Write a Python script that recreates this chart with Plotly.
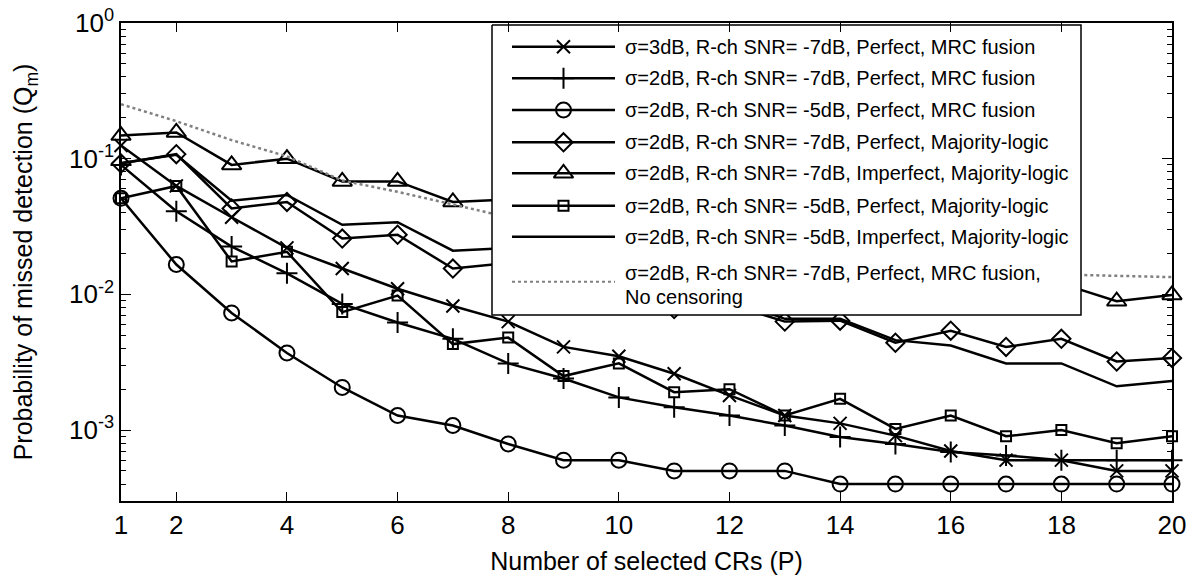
import math

import plotly.graph_objects as go

# Number of selected CRs
P = list(range(1, 21))

# Probability of missed detection (Qm)
q_s3_m7_perf_mrc = [0.125, 0.063, 0.037, 0.022, 0.0155, 0.011, 0.0082, 0.0063, 0.0041, 0.0035,
                    0.0026, 0.0018, 0.00128, 0.00112, 0.00091, 0.0007, 0.0006, 0.0006, 0.0005, 0.0005]
q_s2_m7_perf_mrc = [0.09, 0.041, 0.0225, 0.0143, 0.0085, 0.0062, 0.0047, 0.0031, 0.0024, 0.00174,
                    0.00147, 0.00128, 0.00108, 0.00089, 0.00079, 0.00069, 0.00065, 0.0006, 0.0006, 0.0006]
q_s2_m5_perf_mrc = [0.051, 0.0166, 0.0073, 0.0037, 0.00206, 0.00128, 0.00108, 0.00079, 0.0006, 0.0006,
                    0.0005, 0.0005, 0.0005, 0.0004, 0.0004, 0.0004, 0.0004, 0.0004, 0.0004, 0.0004]
q_s2_m7_perf_maj = [0.092, 0.108, 0.043, 0.048, 0.0258, 0.0275, 0.0155, 0.017, 0.0125, 0.0115,
                    0.0078, 0.0085, 0.0063, 0.0064, 0.0044, 0.0054, 0.0041, 0.0047, 0.0032, 0.0034]
q_s2_m7_imp_maj = [0.148, 0.156, 0.09, 0.1, 0.068, 0.068, 0.048, 0.05, 0.045, 0.04,
                   0.036, 0.031, 0.027, 0.023, 0.02, 0.017, 0.0145, 0.012, 0.0089, 0.0099]
q_s2_m5_perf_maj = [0.051, 0.063, 0.0175, 0.0206, 0.0074, 0.0098, 0.0043, 0.0048, 0.0025, 0.0031,
                    0.0019, 0.002, 0.00128, 0.0017, 0.00102, 0.00128, 0.0009, 0.001, 0.0008, 0.0009]
q_s2_m5_imp_maj = [0.093, 0.107, 0.049, 0.054, 0.0326, 0.034, 0.021, 0.022, 0.016, 0.014,
                   0.0095, 0.0092, 0.0066, 0.0066, 0.0046, 0.0042, 0.0031, 0.0031, 0.0021, 0.0023]
q_s2_m7_perf_mrc_nocens = [0.252, 0.189, 0.137, 0.104, 0.069, 0.057, 0.046, 0.037, 0.031, 0.027,
                           0.024, 0.021, 0.019, 0.017, 0.016, 0.015, 0.0145, 0.014, 0.0137, 0.0134]

labels = [
    "σ=3dB, R-ch SNR= -7dB, Perfect, MRC fusion",
    "σ=2dB, R-ch SNR= -7dB, Perfect, MRC fusion",
    "σ=2dB, R-ch SNR= -5dB, Perfect, MRC fusion",
    "σ=2dB, R-ch SNR= -7dB, Perfect, Majority-logic",
    "σ=2dB, R-ch SNR= -7dB, Imperfect, Majority-logic",
    "σ=2dB, R-ch SNR= -5dB, Perfect, Majority-logic",
    "σ=2dB, R-ch SNR= -5dB, Imperfect, Majority-logic",
    "σ=2dB, R-ch SNR= -7dB, Perfect, MRC fusion,",
]
extra_label = "No censoring"

y_tickvals = [1e-3, 1e-2, 1e-1, 1]
y_ticktext = ["10<sup>-3</sup>", "10<sup>-2</sup>", "10<sup>-1</sup>", "10<sup>0</sup>"]
x_tickvals = [1, 2, 4, 6, 8, 10, 12, 14, 16, 18, 20]

FONT = "Arial, Liberation Sans, sans-serif"

# (data, symbol, size, dash, color)
series = [
    (q_s3_m7_perf_mrc, "x-thin-open", 13, "solid", "black"),
    (q_s2_m7_perf_mrc, "cross-thin-open", 15, "solid", "black"),
    (q_s2_m5_perf_mrc, "circle-open", 15, "solid", "black"),
    (q_s2_m7_perf_maj, "diamond-open", 14, "solid", "black"),
    (q_s2_m7_imp_maj, "triangle-up-open", 17, "solid", "black"),
    (q_s2_m5_perf_maj, "square-open", 10, "solid", "black"),
    (q_s2_m5_imp_maj, None, 0, "solid", "black"),
    (q_s2_m7_perf_mrc_nocens, None, 0, "dot", "#808080"),
]

fig = go.Figure()

for (vals, sym, size, dash, color), name in zip(series, labels):
    fig.add_trace(
        go.Scatter(
            x=P,
            y=vals,
            name=name,
            mode="lines+markers" if sym else "lines",
            line=dict(color=color, width=2.5, dash=dash),
            marker=dict(symbol=sym, size=size, color="black", line=dict(width=2, color="black"))
            if sym else None,
            cliponaxis=False,
            showlegend=False,
        )
    )

# hand-drawn legend box on an overlay axis measured in screen pixels
PLOT_L, PLOT_R, PLOT_T, PLOT_B = 121, 1172, 23, 501
PAGE_PAD = 8  # default body margin of the html page
BOX_X0, BOX_X1, BOX_Y0, BOX_Y1 = 492, 1081, 25, 315
SAMPLE_X0, SAMPLE_X1, TEXT_X = 512, 615, 623
ROW_Y = [46.7, 78.3, 110, 142.3, 173.3, 205.7, 236.7, 281.7]
TEXT_Y = [46.7, 78.3, 110, 142.3, 173.3, 205.7, 236.7, 272.5]
EXTRA_Y = 296.5

fig.add_trace(
    go.Scatter(
        x=[BOX_X0, BOX_X1, BOX_X1, BOX_X0, BOX_X0],
        y=[BOX_Y0, BOX_Y0, BOX_Y1, BOX_Y1, BOX_Y0],
        mode="lines",
        fill="toself",
        fillcolor="white",
        line=dict(color="black", width=1.5),
        xaxis="x2",
        yaxis="y2",
        hoverinfo="skip",
        showlegend=False,
    )
)

xm = (SAMPLE_X0 + SAMPLE_X1) / 2
for (vals, sym, size, dash, color), ry in zip(series, ROW_Y):
    fig.add_trace(
        go.Scatter(
            x=[SAMPLE_X0, SAMPLE_X1],
            y=[ry, ry],
            mode="lines",
            line=dict(color=color, width=2.5 if dash == "solid" else 2, dash=dash),
            xaxis="x2",
            yaxis="y2",
            hoverinfo="skip",
            showlegend=False,
        )
    )
    if sym:
        fig.add_trace(
            go.Scatter(
                x=[xm],
                y=[ry],
                mode="markers",
                marker=dict(symbol=sym, size=size, color="black", line=dict(width=2, color="black")),
                xaxis="x2",
                yaxis="y2",
                hoverinfo="skip",
                showlegend=False,
            )
        )

for name, ty in zip(labels, TEXT_Y):
    fig.add_annotation(
        x=TEXT_X, y=ty, xref="x2", yref="y2", text=name, showarrow=False,
        xanchor="left", yanchor="middle", font=dict(family=FONT, size=20, color="black"),
    )
fig.add_annotation(
    x=TEXT_X, y=EXTRA_Y, xref="x2", yref="y2", text=extra_label, showarrow=False,
    xanchor="left", yanchor="middle", font=dict(family=FONT, size=20, color="black"),
)

# y-axis title placed by hand so it sits at the far left like the reference
fig.add_annotation(
    x=-0.091, y=0.5, xref="paper", yref="paper", textangle=-90,
    text="Probability of missed detection (Q<sub>m</sub>)", showarrow=False,
    xanchor="center", yanchor="middle", font=dict(family=FONT, size=25, color="black"),
)

fig.update_layout(
    width=1200,
    height=585,
    margin=dict(
        l=PLOT_L - PAGE_PAD,
        r=1200 - (PLOT_R - PAGE_PAD),
        t=PLOT_T - PAGE_PAD,
        b=585 - (PLOT_B - PAGE_PAD),
    ),
    paper_bgcolor="white",
    plot_bgcolor="white",
    font=dict(family=FONT, size=25, color="black"),
    showlegend=False,
    xaxis=dict(
        range=[1, 20],
        tickvals=x_tickvals,
        ticks="inside",
        ticklen=9,
        tickwidth=1,
        tickcolor="black",
        showline=True,
        linecolor="black",
        linewidth=1.5,
        mirror="ticks",
        showgrid=False,
        zeroline=False,
        automargin=False,
        ticklabeloverflow="allow",
        tickfont=dict(size=26),
        title=dict(text="Number of selected CRs (P)", font=dict(size=25), standoff=14),
    ),
    yaxis=dict(
        type="log",
        range=[math.log10(3e-4), 0],
        tickvals=y_tickvals,
        ticktext=y_ticktext,
        ticks="inside",
        ticklen=10,
        tickwidth=1,
        tickcolor="black",
        minor=dict(
            tickvals=[m * 10.0 ** d for d in (-4, -3, -2, -1) for m in range(2, 10)],
            ticks="inside",
            ticklen=5,
            tickcolor="black",
            showgrid=False,
        ),
        showline=True,
        linecolor="black",
        linewidth=1.5,
        mirror="ticks",
        showgrid=False,
        zeroline=False,
        automargin=False,
        ticklabeloverflow="allow",
        tickfont=dict(size=26),
    ),
    xaxis2=dict(overlaying="x", range=[PLOT_L, PLOT_R], visible=False, fixedrange=True),
    yaxis2=dict(overlaying="y", range=[PLOT_B, PLOT_T], visible=False, fixedrange=True),
)

fig.write_html("out.html")
